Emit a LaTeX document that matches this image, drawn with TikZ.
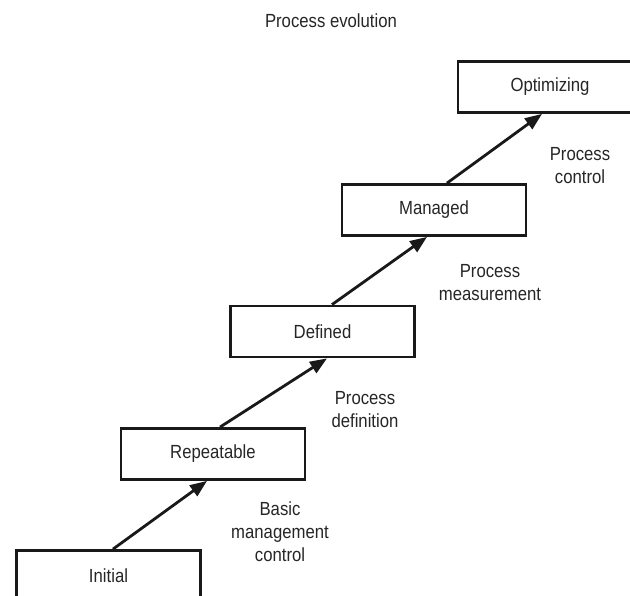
\documentclass[tikz,border=0pt]{standalone}
\usepackage{fontspec}
\setmainfont[FakeStretch=0.88]{Liberation Sans}
\usetikzlibrary{arrows.meta}

\tikzset{
  stage/.style={draw=black!90, line width=2.8pt, minimum width=184pt,
    minimum height=51pt, inner sep=0pt, text=black!85,
    font=\fontsize{19}{22}\selectfont},
  note/.style={align=center, text=black!85, inner sep=0pt,
    font=\fontsize{19}{23}\selectfont},
  climb/.style={line width=2.8pt, draw=black!90,
    -{Triangle[length=17pt,width=13pt]}},
}

\begin{document}
\begin{tikzpicture}[x=1pt,y=-1pt]
  \useasboundingbox (0,0) rectangle (630,596);
  \fill[white] (0,0) rectangle (630,596);

  \begin{scope}
    \clip (0,0) rectangle (630,596);
    % the five maturity stages, climbing to the upper right
    \node[stage] (ini) at (108.5,576) {Initial};
    \node[stage] (rep) at (213,454) {Repeatable};
    \node[stage] (def) at (322.5,331.5) {Defined};
    \node[stage] (man) at (434,210) {Managed};
    \node[stage] (opt) at (550,87) {Optimizing};
  \end{scope}

  % title
  \node[note] (title) at (331,21) {Process evolution};

  % what each step brings
  \node[note] (lbl1) at (280,532) {Basic\\management\\control};
  \node[note] (lbl2) at (365,410) {Process\\definition};
  \node[note] (lbl3) at (490,283) {Process\\measurement};
  \node[note] (lbl4) at (580,166) {Process\\control};

  % arrows between the stages
  \draw[climb] ([xshift=4.5pt]ini.north) -- ([xshift=-6pt]rep.south);
  \draw[climb] ([xshift=7pt]rep.north) -- ([xshift=4.5pt]def.south);
  \draw[climb] ([xshift=9.5pt]def.north) -- ([xshift=-7pt]man.south);
  \draw[climb] ([xshift=13pt]man.north) -- ([xshift=-8pt]opt.south);
\end{tikzpicture}
\end{document}
